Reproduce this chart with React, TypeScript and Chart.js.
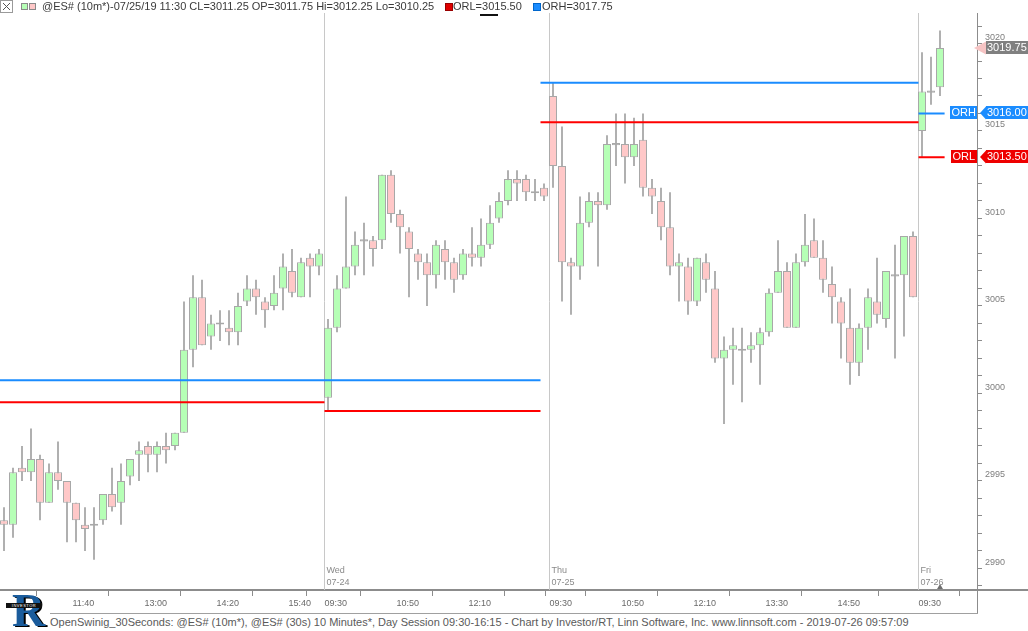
import React, { useEffect, useRef } from 'react';
import { Chart, registerables } from 'chart.js';

Chart.register(...registerables);

// ---------------- data (10 minute bars, oldest first) ----------------
const opens = [
  2992.75, 2992.5, 2995.75, 2995.5, 2996.25, 2993.75, 2995.5, 2995, 2993.75, 2992.5,
  2992.5, 2992.75, 2994.25, 2993.75, 2995.25, 2996.5, 2997, 2996.5, 2997, 2997,
  2997.75, 3002.5, 3005.5, 3003.25, 3004, 3003.75, 3003.5, 3005.25, 3006, 3005.25,
  3005, 3006, 3007, 3005.5, 3007.75, 3007.25,
  2999.75, 3003.75, 3006, 3007.25, 3008.75, 3008.75, 3008.75, 3012.5, 3010.25, 3009.25,
  3008, 3007.5, 3006.75, 3008.25, 3007.5, 3006.75, 3008, 3007.75, 3008.5, 3010,
  3011, 3012.25, 3012.25, 3011.5, 3011.75,
  3017, 3013, 3007.5, 3007.25, 3009.75, 3011, 3010.75, 3014.25, 3014.25, 3013.5,
  3014.5, 3011.75, 3011, 3009.5, 3007.25, 3007.25, 3005.25, 3007.5, 3006, 3002,
  3002.5, 3002.5, 3002.5, 3002.75, 3003.5, 3005.75, 3007, 3003.75, 3007.5, 3008.75,
  3007.75, 3006.25, 3005.25, 3003.75, 3001.75, 3003.75, 3005.25, 3004.25, 3006.75, 3006.75,
  3009,
  3015, 3017.25, 3017.5,
];
const highs = [
  2993.5, 2995.75, 2997, 2998, 2996.5, 2996, 2997.25, 2995, 2993.75, 2993.5,
  2993.5, 2994.25, 2995.75, 2996, 2996.25, 2997.25, 2997.25, 2997.25, 2997.75, 2997.75,
  3005.25, 3006.75, 3006.5, 3004.5, 3004.75, 3004.75, 3005.75, 3006.75, 3006.5, 3005.5,
  3006.75, 3008, 3008.25, 3007.75, 3008, 3008.25,
  3004.25, 3006.75, 3011.25, 3009.25, 3009.75, 3009, 3012.5, 3012.75, 3010.5, 3009.5,
  3008.25, 3008, 3008.75, 3008.75, 3007.75, 3008.25, 3009.5, 3010, 3010.75, 3011.5,
  3012.75, 3012.75, 3012.5, 3012.25, 3012,
  3017.75, 3015.25, 3007.75, 3011.25, 3011.5, 3011.5, 3014.75, 3016, 3016, 3015.75,
  3016, 3012.25, 3011.75, 3011.5, 3008, 3007.75, 3007.75, 3008, 3007, 3003.25,
  3003.75, 3003.75, 3003.5, 3003.75, 3006, 3008.75, 3007.5, 3008, 3010.25, 3010,
  3008.75, 3007.25, 3005.5, 3006, 3004, 3006, 3007.75, 3007, 3008.5, 3009,
  3009.25,
  3019.5, 3019.25, 3020.75,
];
const lows = [
  2991, 2991.75, 2995, 2995, 2992.75, 2993.75, 2994.5, 2991.5, 2991.5, 2991,
  2990.5, 2992.5, 2993.25, 2992.5, 2994.75, 2995, 2995.5, 2995.5, 2996, 2996.75,
  2997.75, 3001.5, 3002.75, 3002.5, 3003, 3002.75, 3002.75, 3005, 3004.5, 3003.75,
  3004.75, 3004.75, 3005.5, 3005.5, 3005.5, 3006.75,
  2999, 3003.5, 3006, 3006.75, 3006.75, 3007.25, 3008.25, 3009.75, 3008, 3005.5,
  3006.5, 3005, 3006, 3006.5, 3005.75, 3006.5, 3007.25, 3007.25, 3008.25, 3009.75,
  3010.75, 3011, 3011, 3011, 3011,
  3011.75, 3005.25, 3004.5, 3006.5, 3009.5, 3007.25, 3010.5, 3013, 3012, 3013,
  3011.25, 3010.25, 3008.75, 3006.75, 3005.25, 3004.5, 3005, 3005.75, 3001.75, 2998.25,
  3000.5, 2999.5, 3001.75, 3000.5, 3003.25, 3005.75, 3003.75, 3003.75, 3007.25, 3007.75,
  3005.75, 3004, 3002, 3000.5, 3001, 3002.5, 3004, 3003.75, 3002, 3003.25,
  3005.5,
  3013.5, 3016.5, 3017,
];
const closes = [
  2992.5, 2995.5, 2995.5, 2996.25, 2993.75, 2995.5, 2995, 2993.75, 2992.75, 2992.25,
  2992.5, 2994.25, 2993.5, 2995, 2996.25, 2996.75, 2996.5, 2997, 2996.75, 2997.75,
  3002.5, 3005.5, 3002.75, 3004, 3004, 3003.5, 3005, 3006, 3005.5, 3004.75,
  3005.75, 3007.25, 3005.75, 3007.5, 3007.25, 3008,
  3003.75, 3006, 3007.25, 3008.5, 3008.75, 3008.25, 3012.5, 3010.25, 3009.5, 3008.25,
  3007.5, 3006.75, 3008.5, 3007.5, 3006.5, 3008, 3007.75, 3008.5, 3009.75, 3011,
  3012.25, 3012, 3011.5, 3011.5, 3011.25,
  3013, 3007.5, 3007.25, 3009.75, 3011, 3010.75, 3014.25, 3014.25, 3013.5, 3014.25,
  3011.75, 3011.25, 3009.5, 3007.25, 3007.5, 3005.25, 3007.75, 3006.5, 3002, 3002.5,
  3002.75, 3002.5, 3002.75, 3003.5, 3005.75, 3007, 3003.75, 3007.5, 3008.5, 3007.75,
  3006.5, 3005.5, 3004, 3001.75, 3003.75, 3005.5, 3004.5, 3007, 3006.75, 3009,
  3005.5,
  3017.25, 3017.25, 3019.75,
];

// sessions: first bar index of each new day
const dayStartBars = [36, 61, 102];
const dayNames = ['Wed', 'Thu', 'Fri'];
const dayDates = ['07-24', '07-25', '07-26'];

// time axis ticks (bar index where the labelled time begins)
const timeTickBars = [8, 16, 24, 32, 36, 44, 52, 60, 61, 69, 77, 85, 93, 102];
const timeTickLabels = ['11:40', '13:00', '14:20', '15:40', '09:30', '10:50', '12:10', '', '09:30', '10:50', '12:10', '13:30', '14:50', '09:30'];

// price axis
const priceLabels = [2990, 2995, 3000, 3005, 3010, 3015, 3020];
const priceAxisMin = 2988.77;
const priceAxisMax = 3021.743;

// opening range levels (bar ranges)
const orhStart = [-1, 60, 102];
const orhEnd = [60, 102, 104.9];
const orhValues = [3000.75, 3017.75, 3016.0];
const orlStart = [-1, 36, 60, 102];
const orlEnd = [36, 60, 102, 104.9];
const orlValues = [2999.5, 2999.0, 3015.5, 3013.5];

const cursorBar = 72;
const cursorTime = '07/25/19 11:30';
const headerOrl = 3015.5;
const headerOrh = 3017.75;

// ---------------- styling constants ----------------
const BAR_START = 3.5 / 9; // offset from bar centre to its start
const GREEN = '#b6ffb6';
const PINK = '#ffc8c8';
const BODY_BORDER = '#a8a8a8';
const WICK = '#b0b0b0';
const BLUE = '#1a8cff';
const RED = '#ff0000';
const FONT = '"Liberation Sans", Arial, sans-serif';

const f2 = (v: number) => v.toFixed(2);

export default function App() {
  const canvasRef = useRef<HTMLCanvasElement>(null);

  useEffect(() => {
    const canvas = canvasRef.current;
    if (!canvas) return;

    const bodyData = opens.map((o, i) => {
      const c = closes[i];
      const lo = Math.min(o, c);
      const hi = Math.max(o, c);
      return { x: i, y: hi - lo < 0.01 ? [lo - 0.06, hi + 0.06] : [lo, hi] };
    });
    const bodyColors = opens.map((o, i) => (closes[i] > o ? GREEN : closes[i] < o ? PINK : BODY_BORDER));
    const wickData = highs.map((h, i) => ({ x: i, y: [lows[i], h] }));

    const levelSets: any[] = [];
    orhValues.forEach((v, i) => {
      levelSets.push({
        type: 'line',
        data: [{ x: orhStart[i] - BAR_START, y: v }, { x: orhEnd[i] - BAR_START, y: v }],
        borderColor: BLUE, borderWidth: 2, pointRadius: 0, fill: false, order: 0, borderCapStyle: 'butt',
      });
    });
    orlValues.forEach((v, i) => {
      levelSets.push({
        type: 'line',
        data: [{ x: orlStart[i] - BAR_START, y: v }, { x: orlEnd[i] - BAR_START, y: v }],
        borderColor: RED, borderWidth: 2, pointRadius: 0, fill: false, order: 0, borderCapStyle: 'butt',
      });
    });
    const sepSets = dayStartBars.map((b) => ({
      type: 'line',
      data: [{ x: b - BAR_START, y: priceAxisMin }, { x: b - BAR_START, y: priceAxisMax }],
      borderColor: '#c8c8c8', borderWidth: 1, pointRadius: 0, fill: false, order: 3,
    }));

    const priceTicks: number[] = [];
    for (let p = Math.ceil(priceAxisMin); p <= Math.floor(priceAxisMax); p += 1) priceTicks.push(p);

    const overlay = {
      id: 'overlay',
      afterDraw(chart: any) {
        const { ctx, chartArea } = chart;
        const xs = chart.scales.x;
        const ys = chart.scales.y;
        ctx.save();
        // day labels
        ctx.font = `9px ${FONT}`;
        ctx.fillStyle = '#8a8a8a';
        ctx.textAlign = 'left';
        ctx.textBaseline = 'top';
        dayStartBars.forEach((b, i) => {
          const px = xs.getPixelForValue(b - BAR_START);
          ctx.fillText(dayNames[i], px + 2, chartArea.bottom - 24);
          ctx.fillText(dayDates[i], px + 2, chartArea.bottom - 12);
        });
        // current bar marker
        const lastX = xs.getPixelForValue(opens.length - 1);
        ctx.fillStyle = '#707070';
        ctx.beginPath();
        ctx.moveTo(lastX - 3, chartArea.bottom - 1);
        ctx.lineTo(lastX + 3, chartArea.bottom - 1);
        ctx.lineTo(lastX, chartArea.bottom - 6);
        ctx.closePath();
        ctx.fill();

        const right = chartArea.right;
        const W = chart.width;
        const priceBox = (price: number, color: string, arrowColor: string, tipOff: number) => {
          const py = Math.round(ys.getPixelForValue(price));
          ctx.fillStyle = arrowColor;
          ctx.beginPath();
          ctx.moveTo(right + tipOff, py);
          ctx.lineTo(right + 9, py - 6.5);
          ctx.lineTo(right + 9, py + 6.5);
          ctx.closePath();
          ctx.fill();
          ctx.fillStyle = color;
          ctx.fillRect(right + 9, py - 7, W - right - 9, 13);
          ctx.fillStyle = '#ffffff';
          ctx.font = `11px ${FONT}`;
          ctx.textAlign = 'left';
          ctx.textBaseline = 'middle';
          ctx.fillText(f2(price), right + 10, py);
        };
        const tag = (price: number, color: string, text: string) => {
          const py = Math.round(ys.getPixelForValue(price));
          ctx.font = `11px ${FONT}`;
          const w = Math.round(ctx.measureText(text).width) + 3;
          ctx.fillStyle = color;
          ctx.fillRect(right - w, py - 7, w, 13);
          ctx.fillStyle = '#ffffff';
          ctx.textAlign = 'left';
          ctx.textBaseline = 'middle';
          ctx.fillText(text, right - w + 1.5, py);
        };
        const lastClose = closes[closes.length - 1];
        priceBox(lastClose, '#808080', '#f6c4c4', -3);
        const curOrh = orhValues[orhValues.length - 1];
        const curOrl = orlValues[orlValues.length - 1];
        priceBox(curOrh, BLUE, BLUE, 3);
        tag(curOrh, BLUE, 'ORH');
        priceBox(curOrl, '#ee0000', '#ee0000', 3);
        tag(curOrl, '#ee0000', 'ORL');
        ctx.restore();
      },
    };

    const chart = new Chart(canvas, {
      type: 'bar',
      data: {
        datasets: [
          ...levelSets,
          {
            type: 'bar',
            data: bodyData as any,
            backgroundColor: bodyColors,
            borderColor: BODY_BORDER,
            borderWidth: 1,
            borderSkipped: false,
            barThickness: 8,
            grouped: false,
            inflateAmount: 0,
            order: 1,
          },
          {
            type: 'bar',
            data: wickData as any,
            backgroundColor: WICK,
            borderWidth: 0,
            barThickness: 2,
            grouped: false,
            inflateAmount: 0,
            order: 2,
          },
          ...sepSets,
        ] as any,
      },
      options: {
        responsive: false,
        animation: false,
        devicePixelRatio: 1,
        layout: { padding: { top: 13, left: 0, right: 0, bottom: 0 } },
        plugins: { legend: { display: false }, tooltip: { enabled: false } },
        scales: {
          x: {
            type: 'linear',
            min: -4 / 9,
            max: 973 / 9,
            offset: false,
            afterBuildTicks: (s: any) => {
              s.ticks = timeTickBars.map((b) => ({ value: b - BAR_START }));
            },
            afterFit: (s: any) => {
              s.height = 22;
            },
            ticks: {
              autoSkip: false,
              maxRotation: 0,
              minRotation: 0,
              align: 'start',
              padding: 2,
              color: '#6a6a6a',
              font: { family: FONT, size: 9 },
              callback: (_v: any, i: number) => timeTickLabels[i],
            },
            grid: { drawOnChartArea: false, drawTicks: true, tickLength: 6, color: '#8c8c8c' },
            border: { display: true, color: '#8c8c8c', width: 2 },
          },
          y: {
            type: 'linear',
            position: 'right',
            min: priceAxisMin,
            max: priceAxisMax,
            afterBuildTicks: (s: any) => {
              s.ticks = priceTicks.map((v) => ({ value: v }));
            },
            afterFit: (s: any) => {
              s.width = 51;
            },
            ticks: {
              autoSkip: false,
              padding: 3,
              labelOffset: -6,
              color: '#7e7e7e',
              font: { family: FONT, size: 9 },
              callback: (v: any) => (priceLabels.includes(Number(v)) ? String(v) : ''),
            },
            grid: { drawOnChartArea: false, drawTicks: true, tickLength: 5, color: '#8c8c8c' },
            border: { display: true, color: '#8c8c8c', width: 1 },
          },
        },
      } as any,
      plugins: [overlay],
    });
    return () => chart.destroy();
  }, []);

  const headerText = `@ES# (10m*)-${cursorTime} CL=${f2(closes[cursorBar])} OP=${f2(opens[cursorBar])} Hi=${f2(highs[cursorBar])} Lo=${f2(lows[cursorBar])}`;
  const footerText =
    'OpenSwinig_30Seconds: @ES# (10m*), @ES# (30s) 10 Minutes*, Day Session 09:30-16:15 - Chart by Investor/RT, Linn Software, Inc. www.linnsoft.com - 2019-07-26 09:57:09';

  const abs = (s: React.CSSProperties): React.CSSProperties => ({ position: 'absolute', ...s });

  return (
    <div style={abs({ left: 0, top: 0, width: 1028, height: 631, background: '#ffffff', overflow: 'hidden', fontFamily: FONT })}>
      <canvas ref={canvasRef} width={1028} height={612} style={abs({ left: 0, top: 0, width: 1028, height: 612 })} />

      {/* header */}
      <svg width={13} height={13} style={abs({ left: 0, top: 0 })}>
        <rect x={0.5} y={0.5} width={12} height={12} fill="#ffffff" stroke="#9a9a9a" />
        <path d="M3 3L10 10M10 3L3 10" stroke="#555" strokeWidth={1} />
      </svg>
      <div style={abs({ left: 21, top: 3, width: 5, height: 5, background: GREEN, border: '1px solid #8a8a8a' })} />
      <div style={abs({ left: 29, top: 3, width: 5, height: 5, background: PINK, border: '1px solid #8a8a8a' })} />
      <div style={abs({ left: 42, top: 0, fontSize: 11, lineHeight: '13px', color: '#3a3a3a', whiteSpace: 'pre' })}>{headerText}</div>
      <div style={abs({ left: 445, top: 3, width: 6, height: 6, background: '#e00000', border: '1px solid #900' })} />
      <div style={abs({ left: 453, top: 0, fontSize: 11, lineHeight: '13px', color: '#3a3a3a', whiteSpace: 'pre' })}>{`ORL=${f2(headerOrl)}`}</div>
      <div style={abs({ left: 533, top: 3, width: 6, height: 6, background: BLUE, border: '1px solid #06c' })} />
      <div style={abs({ left: 542, top: 0, fontSize: 11, lineHeight: '13px', color: '#3a3a3a', whiteSpace: 'pre' })}>{`ORH=${f2(headerOrh)}`}</div>
      <div style={abs({ left: 480, top: 14, width: 18, height: 2, background: '#111' })} />

      {/* axis frame pieces */}
      <div style={abs({ left: 977, top: 589, width: 51, height: 2, background: '#8c8c8c' })} />
      <div style={abs({ left: 977, top: 590, width: 1, height: 23, background: '#8c8c8c' })} />
      <div style={abs({ left: 50, top: 613, width: 928, height: 1, background: '#a0a0a0' })} />

      {/* footer */}
      <div style={abs({ left: 50, top: 616, fontSize: 11, lineHeight: '13px', color: '#5a5a5a', whiteSpace: 'pre' })}>{footerText}</div>

      {/* logo */}
      <div style={abs({ left: 12, top: 588, fontSize: 46, lineHeight: '46px', fontFamily: '"Liberation Serif", serif', fontWeight: 'bold', color: '#1a5c9c', textShadow: '2px 1px 0 #000' })}>R</div>
      <div style={abs({ left: 6, top: 603, width: 36, height: 5, background: '#111', color: '#fff', fontSize: 4, lineHeight: '5px', textAlign: 'center', letterSpacing: 0.5 })}>INVESTOR</div>
    </div>
  );
}
